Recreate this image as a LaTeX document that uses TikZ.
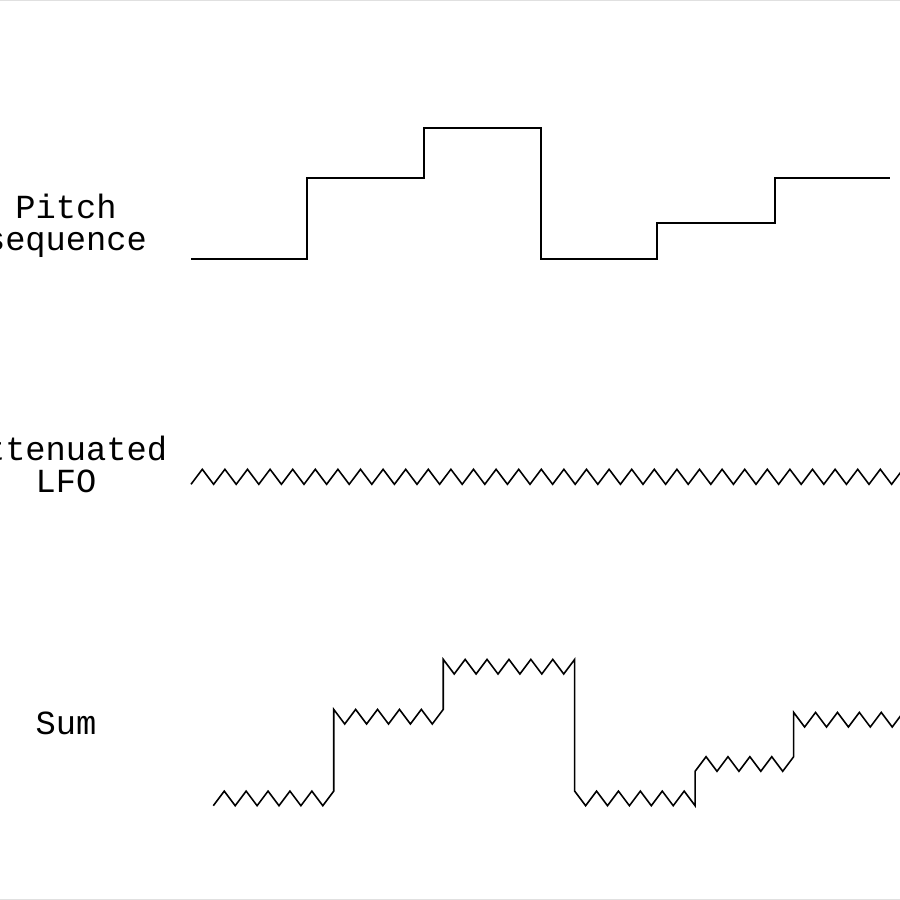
\documentclass[tikz,border=0pt]{standalone}
\usepackage{fontspec}
\newfontfamily\labelfont{Liberation Mono}
\usepackage{tikz}

\begin{document}
\begin{tikzpicture}[x=0.1mm,y=-0.1mm,line width=0.45pt,
    wavelabel/.style={font=\labelfont\fontsize{9.6}{9.1}\selectfont,align=center,inner sep=0pt,anchor=base}]
    \useasboundingbox (0,0) rectangle (900,900);
    \clip (0,0) rectangle (900,900);
    \draw[black!12] (0,0.5) --(900,0.5);
    \draw[black!12] (0,899.5) --(900,899.5);
    \node[wavelabel] (pitchlabel) at (66,250) {Pitch\\sequence};
    \node[wavelabel] (lfolabel) at (66,492.7) {Attenuated\\LFO};
    \node[wavelabel] (sumlabel) at (66,734.3) {Sum};
    \draw (191,259) --(307,259) --(307,178) --(424,178) --(424,128) --(541,128) --(541,259) --(657,259) --(657,223) --(775,223) --(775,178) --(890,178);
    \draw (191,484.3) \foreach \i in {1,...,32} { --++(11.3,-15) --++(11.3,15) };
    \draw (213.3,805.7) \foreach \i in {1,...,5} { --++(10.95,-14.6) --++(10.95,14.6) } --++(10.95,-14.6) --++(0,-81.7)
        \foreach \i in {1,...,5} { --++(10.95,14.6) --++(10.95,-14.6) } --++(0,-50)
        \foreach \i in {1,...,6} { --++(10.95,14.6) --++(10.95,-14.6) } --++(0,131.7)
        \foreach \i in {1,...,5} { --++(10.95,14.6) --++(10.95,-14.6) } --++(10.95,14.6) --++(0,-34.4)
        \foreach \i in {1,...,4} { --++(10.95,-14.6) --++(10.95,14.6) } --++(10.95,-14.6) --++(0,-44.3)
        \foreach \i in {1,...,6} { --++(10.95,14.6) --++(10.95,-14.6) };
\end{tikzpicture}
\end{document}
